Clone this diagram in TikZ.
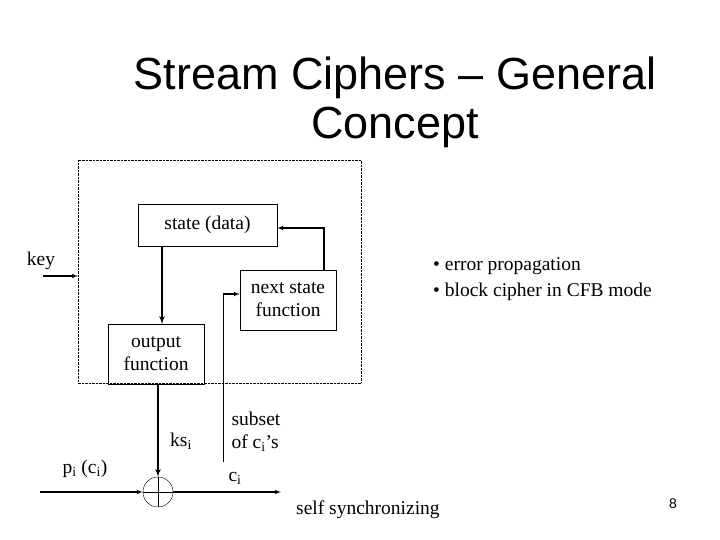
\documentclass[tikz,border=0pt]{standalone}
\usepackage{fontspec}
\setmainfont{Liberation Serif}
\newfontfamily\titlefont{Liberation Sans}
\usepackage{tikz}
\usetikzlibrary{shapes,arrows}
\usetikzlibrary{positioning}
\tikzstyle{block} = [rectangle, draw, thin, text centered, align=center, inner sep=0pt]
\tikzstyle{line} = [draw, line width=1.1pt, -latex']
\tikzstyle{tag} = [inner sep=0pt, align=left]
\tikzstyle{xorop} = [circle, draw, thin, minimum size=30pt, inner sep=0pt]

\begin{document}
\begin{tikzpicture}[x=1pt,y=-1pt,node distance=1cm,auto,font=\fontsize{19.5}{23}\selectfont]
  \useasboundingbox (0,0) rectangle (720,540);
  \node [font=\titlefont\fontsize{45}{49}\selectfont, align=center] (title) at (395,102) {Stream Ciphers \textendash\ General\\Concept};

  % keystream generator
  \draw [densely dotted, thin] (78,160) rectangle (361,383);
  \node [block, minimum width=139pt, minimum height=42pt] (state) at (207.5,225) {state (data)};
  \node [block, minimum width=96pt, minimum height=60pt] (outf) at (156,354) {output\\function};
  \node [block, minimum width=96pt, minimum height=60pt] (nextf) at (288,300) {next state\\function};

  \node [xorop] (xor) at (158,492) {};
  \draw [thin] (xor.north) -- (xor.south) (xor.west) -- (xor.east);

  \coordinate (keyin) at (43,276);
  \coordinate (keybox) at (78,276);
  \coordinate (pin) at (40,492);
  \coordinate (cout) at (281,492);
  \coordinate (fbtop) at (324,228);
  \coordinate (ofin) at (162,324);
  \coordinate (subbot) at (223,462);
  \coordinate (subtop) at (223,294);

  \path [line] (keyin) -- (keybox);
  \path [line, line width=1.6pt] (ofin |- state.south) -- (ofin);
  \path [line] (nextf.north -| fbtop) -- (fbtop) -- (state.east |- fbtop);
  \path [line, line width=1.6pt] (outf.south -| xor) -- (xor.north);
  \path [line] (pin) -- (xor.west);
  \path [line] (xor.east) -- (cout);
  \draw [thin] (subbot) -- (subtop);
  \path [line] (subtop) -- (nextf.west |- subtop);

  % labels
  \node [tag] (key) at (41,261) {key};
  \node [tag] (ks) at (181,441) {ks\textsubscript{i}};
  \node [tag] (pc) at (85,469) {p\textsubscript{i} (c\textsubscript{i})};
  \node [tag] (ci) at (235,478) {c\textsubscript{i}};
  \node [tag] (subset) at (256,432) {subset\\of c\textsubscript{i}'s};
  \node [tag, anchor=west] (selfsync) at (296,510) {self synchronizing};
  \node [tag, anchor=west] (bul1) at (433,266) {\textbullet\ error propagation};
  \node [tag, anchor=west] (bul2) at (433,292) {\textbullet\ block cipher in CFB mode};
  \node [font=\titlefont\fontsize{14}{16}\selectfont] (pnum) at (673,504) {8};
\end{tikzpicture}
\end{document}
